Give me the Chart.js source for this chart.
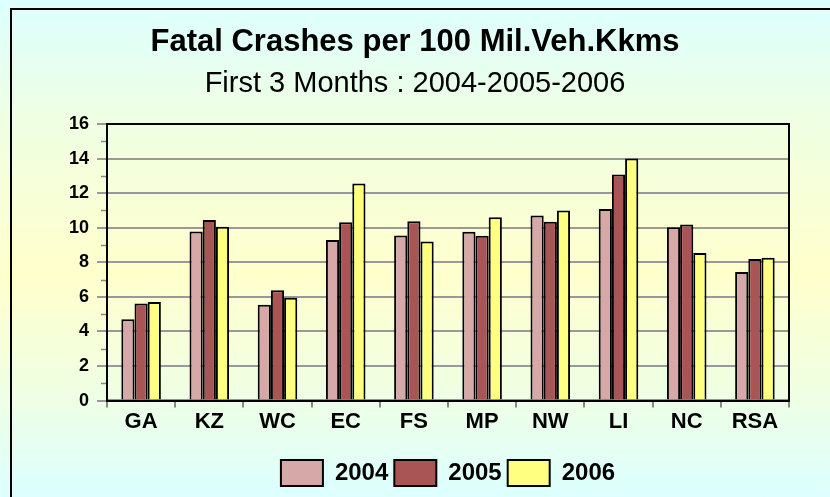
<!DOCTYPE html>
<html>
<head>
<meta charset="utf-8">
<script src="https://cdn.jsdelivr.net/npm/chart.js@4.4.1/dist/chart.umd.min.js"></script>
<style>
  html, body { margin: 0; padding: 0; overflow: hidden; }
  #wrap { position: relative; width: 830px; height: 497px; overflow: hidden;
    background: linear-gradient(to bottom, #dcffff 0%, #f0ffe2 25%, #ffffcc 55%, #f0ffe2 78%, #dcffff 100%); }
  #frame { position: absolute; left: 10px; top: 8px; width: 900px; height: 600px; border: 2px solid #000; }
  canvas { position: absolute; left: 0; top: 0; }
</style>
</head>
<body>
<div id="wrap">
  <div id="frame"></div>
  <canvas id="c" width="830" height="497"></canvas>
</div>
<script>
const categories = ['GA', 'KZ', 'WC', 'EC', 'FS', 'MP', 'NW', 'LI', 'NC', 'RSA'];
const seriesNames = ['2004', '2005', '2006'];
const values2004 = [4.71, 9.78, 5.54, 9.29, 9.55, 9.76, 10.71, 11.09, 10.03, 7.44];
const values2005 = [5.62, 10.45, 6.38, 10.32, 10.38, 9.53, 10.34, 13.08, 10.18, 8.19];
const values2006 = [5.70, 10.05, 5.95, 12.56, 9.20, 10.61, 11.00, 14.01, 8.54, 8.27];
const yTicks = [0, 2, 4, 6, 8, 10, 12, 14, 16];
const titleText = 'Fatal Crashes per 100 Mil.Veh.Kkms';
const subtitleText = 'First 3 Months : 2004-2005-2006';

const colors = ['#d6a8a8', '#aa5555', '#ffff80'];
const FONT = 'Arial, "Liberation Sans", sans-serif';

const framePlugin = {
  id: 'framePlugin',
  afterDraw(chart) {
    const { ctx, chartArea: a, scales } = chart;
    const y = scales.y;
    ctx.save();
    ctx.strokeStyle = '#888';
    ctx.lineWidth = 1.5;
    for (let v = 1; v < 16; v += 2) {
      const py = Math.round(y.getPixelForValue(v)) + 0.5;
      ctx.beginPath();
      ctx.moveTo(a.left - 6, py);
      ctx.lineTo(a.left, py);
      ctx.stroke();
    }
    ctx.strokeStyle = '#000';
    ctx.lineWidth = 2;
    ctx.strokeRect(a.left, a.top, a.right - a.left, a.bottom - a.top);
    ctx.restore();
  }
};

new Chart(document.getElementById('c'), {
  type: 'bar',
  data: {
    labels: categories,
    datasets: [
      { label: seriesNames[0], data: values2004, backgroundColor: colors[0] },
      { label: seriesNames[1], data: values2005, backgroundColor: colors[1] },
      { label: seriesNames[2], data: values2006, backgroundColor: colors[2] }
    ].map(d => Object.assign(d, { borderColor: '#000', borderWidth: 2, categoryPercentage: 0.58, barPercentage: 1.0, yAxisID: 'y' }))
  },
  options: {
    responsive: false,
    animation: false,
    devicePixelRatio: 1,
    layout: { padding: { left: 0, right: 0, top: 0, bottom: 1 } },
    scales: {
      x: {
        grid: { offset: true, drawOnChartArea: false, drawTicks: true, tickLength: 7, color: '#888', lineWidth: 2 },
        border: { display: true, color: '#000', width: 2 },
        ticks: { color: '#000', font: { family: FONT, size: 22, weight: 'bold' }, padding: 1 },
        afterFit(scale) { scale.height += 18; }
      },
      y: {
        min: 0, max: 16,
        afterBuildTicks(scale) { scale.ticks = yTicks.map(v => ({ value: v })); },
        afterFit(scale) { scale.width = 107; },
        grid: { color: '#999', lineWidth: 2, tickLength: 10, drawTicks: true },
        border: { display: true, color: '#000', width: 2 },
        ticks: { color: '#000', font: { family: FONT, size: 18, weight: 'bold' }, padding: 8 }
      },
      yRight: {
        position: 'right',
        min: 0, max: 16,
        grid: { display: false, drawTicks: false },
        border: { display: false },
        ticks: { display: false },
        afterFit(scale) { scale.width = 41; }
      }
    },
    plugins: {
      title: {
        display: true, text: titleText, color: '#000',
        font: { family: FONT, size: 31, weight: 'bold' },
        padding: { top: 24, bottom: 5 }
      },
      subtitle: {
        display: true, text: subtitleText, color: '#000',
        font: { family: FONT, size: 29, weight: 'normal' },
        padding: { top: 0, bottom: 23 }
      },
      legend: {
        position: 'bottom',
        fullSize: false,
        labels: {
          boxWidth: 42, boxHeight: 26, padding: 6, color: '#000',
          font: { family: FONT, size: 24, weight: 'bold' }
        }
      },
      tooltip: { enabled: false }
    }
  },
  plugins: [framePlugin]
});
</script>
</body>
</html>
